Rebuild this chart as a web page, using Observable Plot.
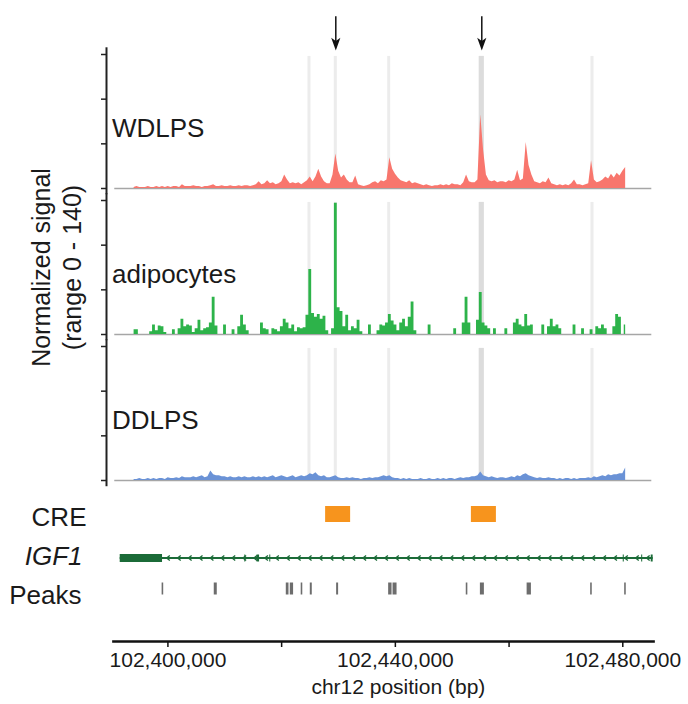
<!DOCTYPE html>
<html><head><meta charset="utf-8">
<script src="https://cdn.jsdelivr.net/npm/d3@7"></script>
<script src="https://cdn.jsdelivr.net/npm/@observablehq/plot@0.6"></script>
<style>
html,body{margin:0;padding:0;background:#fff;}
#chart{width:688px;height:704px;overflow:hidden;}
#chart svg{display:block;}
</style></head><body><div id="chart"></div>
<script>
// ---------- data ----------
const tracks = ["WDLPS", "adipocytes", "DDLPS"];
const trackColors = ["#f8766d", "#2db34a", "#6a92d6"];
const binStart = 102394000;   // first 500-bp bin (chr12)
const binSize = 500;

const wdlps = [
  1,2,1,1,1,2,1,1,2,1,
  2,1,2,1,2,2,1,4,2,2,
  2,3,2,2,1,2,2,3,4,2,
  2,3,2,2,3,2,2,3,2,3,
  3,2,3,4,7,4,5,8,5,6,
  4,5,7,14,9,5,6,5,6,4,
  6,8,12,7,12,20,12,7,5,5,
  14,36,18,11,14,9,6,6,13,4,
  3,2,3,4,6,7,5,8,7,9,
  32,20,15,11,8,7,6,8,5,6,
  5,4,3,4,3,2,3,3,4,3,
  4,3,5,4,4,3,6,14,7,6,
  6,9,77,40,14,8,7,8,6,7,
  7,6,8,7,9,19,8,10,48,24,
  14,7,6,5,7,6,11,5,4,3,
  4,3,4,3,5,9,4,4,3,4,
  5,29,9,6,7,9,12,10,15,11,
  16,13,18,22
];
const adipocytes = [
  5,5,0,0,0,0,3,10,4,9,
  8,2,0,0,5,0,6,16,8,10,
  9,2,6,15,4,6,7,12,39,9,
  0,0,10,0,0,5,0,8,20,10,
  4,0,0,0,0,12,6,5,0,6,
  5,3,8,16,12,6,10,3,7,6,
  7,20,68,22,18,21,16,19,4,0,
  6,137,28,24,8,20,4,8,6,15,
  3,0,0,10,0,0,4,10,9,12,
  21,14,10,4,12,16,8,18,34,4,
  0,0,0,0,10,0,0,0,0,0,
  0,0,0,6,0,0,12,39,12,0,
  0,15,44,12,9,6,0,6,0,0,
  0,6,0,0,12,16,10,8,21,9,
  10,0,0,0,10,0,8,16,8,10,
  6,0,0,0,0,10,0,0,6,0,
  0,5,0,8,6,10,6,0,0,8,
  21,18,0,10
];
const ddlps = [
  1,1,2,1,1,2,1,2,1,2,
  2,1,3,2,2,3,2,4,3,3,
  3,4,3,4,5,3,4,10,6,5,
  5,4,4,3,4,3,3,4,3,4,
  3,3,4,3,4,3,4,3,4,5,
  3,4,5,4,3,4,5,3,4,5,
  4,5,7,6,8,5,4,5,3,3,
  4,5,3,2,2,3,2,3,2,2,
  1,2,2,3,2,3,3,4,5,4,
  5,3,2,2,1,2,1,2,1,1,
  1,2,1,1,2,1,1,2,1,2,
  1,2,2,1,2,3,2,3,3,4,
  4,5,9,5,4,3,4,3,2,3,
  3,2,3,4,3,5,4,6,7,5,
  4,3,2,3,2,2,3,2,2,1,
  2,1,2,2,1,2,1,2,2,2,
  3,2,4,3,4,5,4,6,5,6,
  6,7,7,13
];
const trackValues = [wdlps, adipocytes, ddlps];

const highlightStart = [102424600, 102429230, 102438630, 102454740, 102474400];
const highlightEnd   = [102425130, 102429760, 102439150, 102455630, 102474930];
const arrowAt = [102429495, 102455185];

const creStart = [102427734, 102453372];
const creEnd   = [102432133, 102457771];

const peakStart = [102398980, 102408150, 102420819, 102421522, 102423440, 102425040, 102429670,
                   102438820, 102439594, 102452470, 102454955, 102463173, 102474350, 102480330];
const peakEnd   = [102399260, 102408680, 102421294, 102422103, 102423720, 102425390, 102430020,
                   102439419, 102440298, 102452750, 102455659, 102463930, 102474630, 102480610];

const geneName = "IGF1";
const utrStart = 102391609, utrEnd = 102399052;
const geneEnd = 102485340;
const exonStart = [102413520, 102415663, 102417910, 102480080, 102483320, 102485000];
const exonEnd   = [102413700, 102416120, 102418090, 102480260, 102483500, 102485340];

const xTicks = [102400000, 102420000, 102440000, 102460000, 102480000];
const xTickLabels = ["102,400,000", "", "102,440,000", "", "102,480,000"];
const yTicks = [0, 140 / 3, 280 / 3, 140];
const rowLabels = ["CRE", geneName, "Peaks"];

// ---------- tables ----------
const signal = tracks.flatMap((t, k) =>
  trackValues[k].map((v, i) => ({track: t, pos: binStart + i * binSize, value: v})));
const highlights = highlightStart.map((s, i) => ({start: s, end: highlightEnd[i]}));
const mainHighlight = highlights.filter(h => h.start <= arrowAt[1] && h.end >= arrowAt[1]);
const cres = creStart.map((s, i) => ({start: s, end: creEnd[i]}));
const peaks = peakStart.map((s, i) => ({start: s, end: peakEnd[i]}));
const exons = exonStart.map((s, i) => ({start: s, end: exonEnd[i]}));

// view (bp) of the plots
const viewTop = [102389145, 102485400];   // includes the y-axis gutter
const viewBottom = [102390430, 102485400];
const baseStart = 102390600, baseEnd = 102485100;

const font = "'Liberation Sans', Arial, Helvetica, sans-serif";
const green = "#1b6b38";

const arrowHead = {draw(ctx) {
  ctx.moveTo(0, 6.4); ctx.lineTo(-4.6, -6.4); ctx.lineTo(0, -3.2); ctx.lineTo(4.6, -6.4); ctx.closePath();
}};
const chevron = {draw(ctx) {
  ctx.moveTo(1.6, -2.6); ctx.lineTo(-1.6, 0); ctx.lineTo(1.6, 2.6);
}};
const chevrons = d3.range(102400050, 102485000, 1918);

// ---------- signal tracks ----------
const trackPlot = Plot.plot({
  width: 688, height: 495,
  marginLeft: 106, marginRight: 35, marginTop: 53, marginBottom: 13,
  style: {fontFamily: font, background: "#fff", color: "#1a1a1a"},
  x: {domain: viewTop, axis: null},
  y: {domain: [0, 140], axis: null},
  fy: {domain: tracks, axis: null, paddingInner: 0.0816, paddingOuter: 0},
  color: {domain: tracks, range: trackColors},
  marks: [
    Plot.rect(highlights, {x1: "start", x2: "end", y1: 0, y2: 138, fill: "#ececec"}),
    Plot.rect(mainHighlight, {x1: "start", x2: "end", y1: 0, y2: 138, fill: "#dcdcdc"}),
    Plot.ruleY([0], {x1: baseStart, x2: baseEnd, stroke: "#a6a6a6", strokeWidth: 1.5}),
    Plot.areaY(signal.filter(d => d.track !== "adipocytes"), {x: "pos", y: "value", fy: "track", fill: "track", curve: "linear"}),
    Plot.areaY(signal.filter(d => d.track === "adipocytes"), {x: "pos", y: "value", fy: "track", fill: "track", curve: "step"}),
    Plot.axisY({ticks: yTicks, tickFormat: () => "", tickSize: 5, stroke: "#222", strokeWidth: 1.5, label: null}),
    Plot.ruleX([viewTop[0]], {y1: -6.5, y2: 147, stroke: "#222", strokeWidth: 2}),
    Plot.text(tracks, {fy: d => d, text: d => d, frameAnchor: "left", y: 62, dx: 5.5,
      textAnchor: "start", lineAnchor: "middle", fontSize: 26, fill: "#1a1a1a"}),
    Plot.text(["adipocytes"], {fy: d => d, text: () => "Normalized signal\n(range 0 - 140)",
      frameAnchor: "left", dx: -51, rotate: -90, textAnchor: "middle", lineAnchor: "middle",
      lineHeight: 1.24, fontSize: 25, fill: "#1a1a1a"}),
    Plot.ruleX(arrowAt, {x: d => d, fy: () => "WDLPS", y1: 179.4, y2: 150.8, stroke: "#111", strokeWidth: 1.5}),
    Plot.dot(arrowAt, {x: d => d, fy: () => "WDLPS", y: 150.8, symbol: arrowHead, fill: "#111", stroke: "none"})
  ]
});

// ---------- annotation tracks + x axis ----------
const annotationPlot = Plot.plot({
  width: 688, height: 209,
  marginLeft: 113, marginRight: 35, marginTop: 0, marginBottom: 63,
  style: {fontFamily: font, background: "#fff", color: "#1a1a1a"},
  x: {domain: viewBottom},
  y: {type: "point", domain: rowLabels, range: [21.5, 100], padding: 0, axis: null},
  marks: [
    Plot.ruleY(cres, {x1: "start", x2: "end", y: () => "CRE", dy: -3.5, stroke: "#f7941d", strokeWidth: 16}),
    Plot.ruleY([{start: utrStart, end: geneEnd}], {x1: "start", x2: "end", y: () => geneName, dy: 1.5, stroke: green, strokeWidth: 2}),
    Plot.dot(chevrons, {x: d => d, y: () => geneName, dy: 1.5, symbol: chevron, stroke: green, fill: "none", strokeWidth: 1.3}),
    Plot.ruleY([{start: utrStart, end: utrEnd}], {x1: "start", x2: "end", y: () => geneName, dy: 1.5, stroke: green, strokeWidth: 8}),
    Plot.ruleY(exons, {x1: "start", x2: "end", y: () => geneName, dy: 1.5, stroke: green, strokeWidth: 7}),
    Plot.ruleY(peaks, {x1: "start", x2: "end", y: () => "Peaks", dy: -7, stroke: "#6d6d6d", strokeWidth: 12}),
    Plot.text(["CRE"], {frameAnchor: "left", y: d => d, text: d => d, dx: -27, textAnchor: "end", lineAnchor: "middle", fontSize: 26, fill: "#1a1a1a"}),
    Plot.text([geneName], {frameAnchor: "left", y: d => d, text: d => d, dx: -31, textAnchor: "end", lineAnchor: "middle", fontSize: 26, fontStyle: "italic", fill: "#1a1a1a"}),
    Plot.text(["Peaks"], {frameAnchor: "left", y: d => d, text: d => d, dx: -32, textAnchor: "end", lineAnchor: "middle", fontSize: 26, fill: "#1a1a1a"}),
    Plot.frame({anchor: "bottom", stroke: "#111", strokeWidth: 2.7}),
    Plot.axisX({ticks: xTicks, tickFormat: d => xTickLabels[xTicks.indexOf(d)], tickSize: 6, tickPadding: 5,
      fontSize: 21, stroke: "#111", strokeWidth: 1.5, label: null}),
    Plot.text(["chr12 position (bp)"], {x: xTicks[2], frameAnchor: "bottom", dx: 3, dy: 46,
      fontSize: 21, lineAnchor: "middle", fill: "#1a1a1a"})
  ]
});

const chart = document.getElementById("chart");
chart.appendChild(trackPlot);
chart.appendChild(annotationPlot);
</script>
</body></html>
